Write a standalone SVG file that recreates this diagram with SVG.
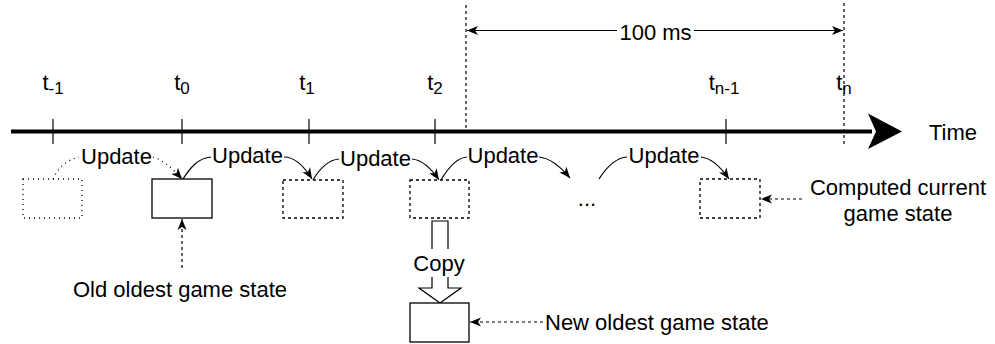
<svg xmlns="http://www.w3.org/2000/svg" width="995" height="344" viewBox="0 0 995 344">
<defs>
<style>
text{font-family:"Liberation Sans",Arial,Helvetica,sans-serif;font-size:22px;fill:#000}
.box{fill:#fff;stroke:#000;stroke-width:1.3}
.dash{stroke-dasharray:3 3}
.dot{stroke-dasharray:1 4}
.ln{fill:none;stroke:#000;stroke-width:1.2}
.tick{stroke:#000;stroke-width:1.2}
.sub{font-size:17px}
</style>
<marker id="ah" markerUnits="userSpaceOnUse" viewBox="-12 -6 13 12" refX="0" refY="0" markerWidth="13" markerHeight="12" orient="auto">
<path d="M-11,-4.5 L0,0 L-11,4.5 L-8,0 Z" fill="#000"/>
</marker>
</defs>
<rect width="995" height="344" fill="#fff"/>

<g id="timeline">
<line x1="11" y1="131.5" x2="872" y2="131.5" stroke="#000" stroke-width="4"/>
<path d="M868,113.5 L902,131.5 L868,149 L876,131.5 Z" fill="#000"/>
<g class="tick">
<line x1="53" y1="119" x2="53" y2="144"/>
<line x1="182" y1="119" x2="182" y2="144"/>
<line x1="309" y1="119" x2="309" y2="144"/>
<line x1="435" y1="119" x2="435" y2="144"/>
<line x1="726" y1="119" x2="726" y2="144"/>
</g>
<line x1="466" y1="5" x2="466" y2="131" class="ln dash"/>
<line x1="844" y1="3" x2="844" y2="144" class="ln dash"/>
<text x="929" y="139.5">Time</text>
</g>

<g id="labels">
<text x="53" y="90" text-anchor="middle">t<tspan class="sub" dy="4">-1</tspan></text>
<text x="182" y="90" text-anchor="middle">t<tspan class="sub" dy="4">0</tspan></text>
<text x="307" y="90" text-anchor="middle">t<tspan class="sub" dy="4">1</tspan></text>
<text x="435" y="90" text-anchor="middle">t<tspan class="sub" dy="4">2</tspan></text>
<text x="724" y="90" text-anchor="middle">t<tspan class="sub" dy="4">n-1</tspan></text>
<text x="844" y="90" text-anchor="middle">t<tspan class="sub" dy="4">n</tspan></text>
</g>

<g id="connectors">
<path d="M617,30.5 L467,30.5" class="ln" marker-end="url(#ah)"/>
<path d="M694,30.5 L843,30.5" class="ln" marker-end="url(#ah)"/>
<path d="M53,179 C58,168 66,160 79,157" class="ln dot"/>
<path d="M153,157 C163,160 172,168 182,179" class="ln dot" marker-end="url(#ah)"/>
<path d="M183,179 C190,168 198,158 211,157" class="ln"/>
<path d="M284,157 C294,157 304,166 312,179" class="ln" marker-end="url(#ah)"/>
<path d="M313,180 C320,168 328,160 339,159" class="ln"/>
<path d="M412,159 C422,160 431,168 439,180" class="ln" marker-end="url(#ah)"/>
<path d="M441,180 C448,168 456,158 467,157" class="ln"/>
<path d="M539,157 C549,158 560,166 570,178" class="ln" marker-end="url(#ah)"/>
<path d="M599,179 C606,168 615,158 627,157" class="ln"/>
<path d="M701,157 C711,158 720,166 729,179" class="ln" marker-end="url(#ah)"/>
<path d="M182,268 L182,219" class="ln dash" marker-end="url(#ah)"/>
<path d="M802,199 L761,199" class="ln dash" marker-end="url(#ah)"/>
<path d="M543,322 L470,322" class="ln dash" marker-end="url(#ah)"/>
<g id="copy-arrow">
<path d="M432,221 L448,221 L448,288 L461,288 L440,303 L419,288 L432,288 Z" fill="#fff" stroke="#000" stroke-width="1.2"/>
<rect x="414" y="249" width="52" height="28" fill="#fff"/>
<text x="439" y="271" text-anchor="middle">Copy</text>
</g>
</g>

<g id="update-labels">
<text x="116.5" y="164" text-anchor="middle">Update</text>
<text x="247.5" y="163" text-anchor="middle">Update</text>
<text x="375.5" y="166" text-anchor="middle">Update</text>
<text x="503" y="163" text-anchor="middle">Update</text>
<text x="664" y="163" text-anchor="middle">Update</text>
<text x="655.5" y="39.5" text-anchor="middle">100 ms</text>
</g>

<g id="state-m1"><rect x="23" y="179" width="59" height="39" class="box dot"/></g>
<g id="state-0"><rect x="152" y="179" width="60" height="39" class="box"/></g>
<g id="state-1"><rect x="283" y="180" width="60" height="38" class="box dash"/></g>
<g id="state-2"><rect x="410" y="180" width="59" height="38" class="box dash"/></g>
<g id="state-ellipsis"><text x="587" y="206" text-anchor="middle">...</text></g>
<g id="state-n1"><rect x="700" y="179" width="60" height="39" class="box dash"/></g>
<g id="state-new"><rect x="410" y="303" width="59" height="39" class="box"/></g>

<g id="note-old"><text x="180" y="297" text-anchor="middle">Old oldest game state</text></g>
<g id="note-current"><text x="898" y="195" text-anchor="middle">Computed current</text><text x="898" y="221" text-anchor="middle">game state</text></g>
<g id="note-new"><text x="545" y="330">New oldest game state</text></g>
</svg>
